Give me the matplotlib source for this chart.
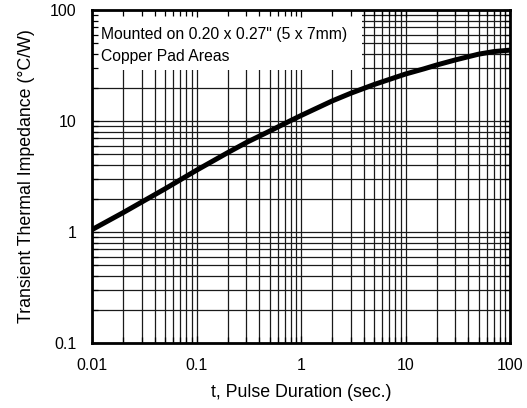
import matplotlib
matplotlib.use("Agg")
import matplotlib.pyplot as plt
from matplotlib.patches import Rectangle

# ---- data ----
pulse_t = [0.01, 0.02, 0.05, 0.1, 0.2, 0.3, 0.5, 0.7, 1.0, 2.0, 3.0, 5.0,
           10, 15, 20, 30, 50, 70, 100]
impedance = [1.05, 1.5, 2.45, 3.6, 5.2, 6.4, 8.1, 9.5, 11.2, 15.2, 17.8, 21.3,
             26.5, 29.5, 32, 35.5, 40, 42.2, 43.5]
x_ticks = [0.01, 0.1, 1, 10, 100]
x_tick_labels = ["0.01", "0.1", "1", "10", "100"]
y_ticks = [0.1, 1, 10, 100]
y_tick_labels = ["0.1", "1", "10", "100"]
note_lines = ['Mounted on 0.20 x 0.27" (5 x 7mm)', "Copper Pad Areas"]
x_label = "t, Pulse Duration (sec.)"
y_label = "Transient Thermal Impedance (\u00b0C/W)"

plt.rcParams["font.family"] = ["Liberation Sans", "DejaVu Sans"]

W, H = 527, 408
fig = plt.figure(figsize=(W / 100, H / 100), dpi=100)
pos = [92 / W, 1 - 343 / H, (510 - 92) / W, (343 - 10) / H]
ax = fig.add_axes(pos)
ax.set_xscale("log")
ax.set_yscale("log")
ax.set_xlim(0.01, 100)
ax.set_ylim(0.1, 100)

ax.grid(True, which="both", color="#1a1a1a", lw=0.9)
ax.set_axisbelow(True)

# white note box hiding the grid (top-left corner)
box_w = (362 - 92) / (510 - 92)
box_h = (70 - 10) / (343 - 10)
ax.add_patch(Rectangle((0, 1 - box_h), box_w, box_h,
                       transform=ax.transAxes, facecolor="white", edgecolor="none",
                       zorder=1.5))

ax.plot(pulse_t, impedance, color="black", lw=3.6, solid_capstyle="butt",
        solid_joinstyle="round", zorder=3)

ax.text(101 / W, 1 - 35 / H, note_lines[0], transform=fig.transFigure,
        fontsize=11.3, va="center", ha="left", zorder=4)
ax.text(101 / W, 1 - 56 / H, note_lines[1], transform=fig.transFigure,
        fontsize=11.3, va="center", ha="left", zorder=4)

ax.set_xticks(x_ticks)
ax.set_xticklabels(x_tick_labels)
ax.set_yticks(y_ticks)
ax.set_yticklabels(y_tick_labels)
ax.tick_params(which="both", length=0, labelsize=11.5)
ax.tick_params(axis="x", pad=11)
ax.tick_params(axis="y", pad=11)
ax.set_xlabel(x_label, fontsize=12.8, labelpad=8)
ax.set_ylabel(y_label, fontsize=12.8, labelpad=11)
for s in ax.spines.values():
    s.set_linewidth(2)
    s.set_zorder(5)

# overlay axes for inward ticks on top of the white box
ax2 = fig.add_axes(pos, sharex=ax, sharey=ax)
ax2.patch.set_visible(False)
for s in ax2.spines.values():
    s.set_visible(False)
ax2.tick_params(which="both", direction="in", top=True, right=True, left=True,
                bottom=True, labelleft=False, labelbottom=False, length=4, width=0.9)
ax2.tick_params(which="major", length=5)

fig.savefig("out.png", dpi=100)
